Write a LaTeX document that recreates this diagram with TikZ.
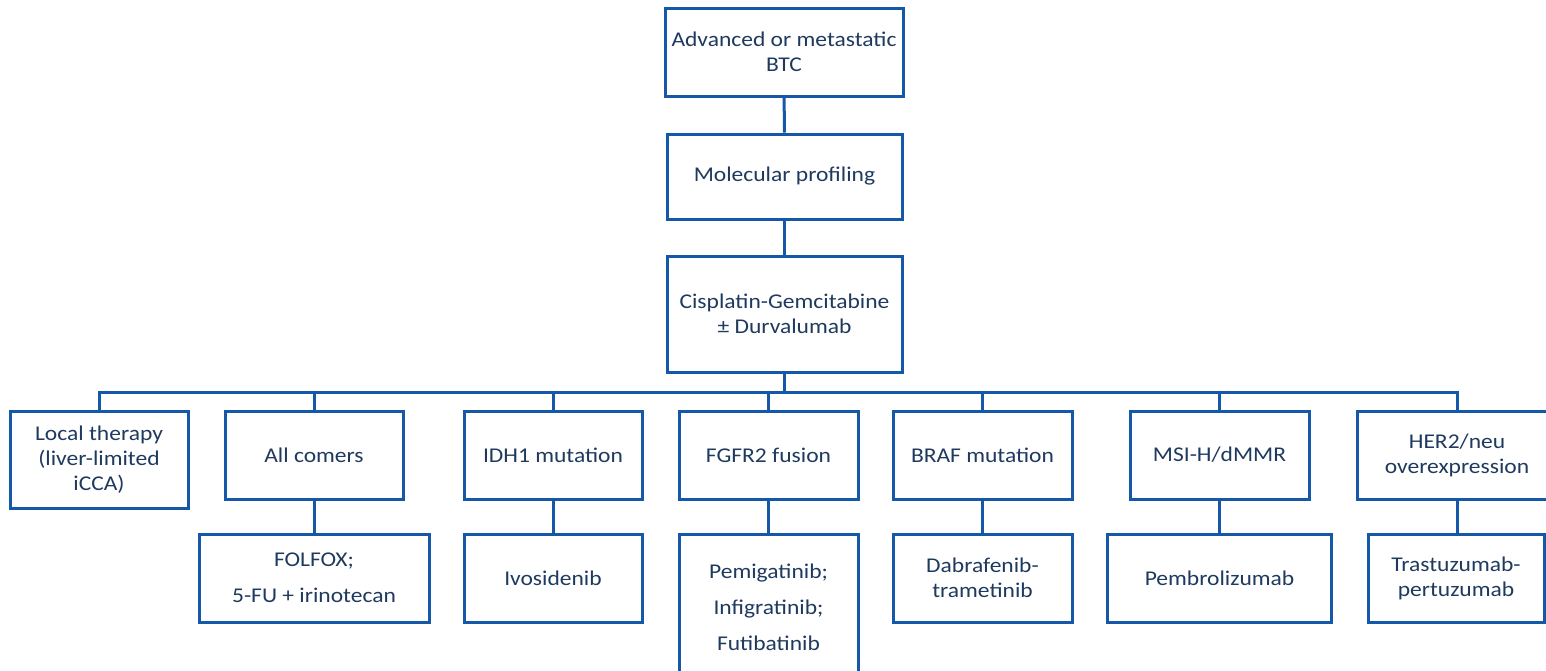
\documentclass[tikz,border=0pt]{standalone}
\usepackage{fontspec}
\setmainfont[FakeStretch=1.12]{Carlito}
\definecolor{boxblue}{HTML}{1558A8}
\definecolor{txtnavy}{HTML}{1F3A5F}
\tikzset{
  box/.style={draw=boxblue, line width=3pt, fill=white, text=txtnavy, align=center,
    inner sep=2pt, font=\fontsize{21}{25}\selectfont},
  link/.style={draw=boxblue, line width=3pt}
}
\begin{document}
\begin{tikzpicture}[x=1pt,y=-1pt]
\useasboundingbox (0,0) rectangle (1546,670);
% top chain
\node[box, minimum width=238pt, minimum height=88pt] (top) at (784,52) {Advanced or metastatic\\BTC};
\node[box, minimum width=235pt, minimum height=85pt] (mol) at (784.5,176.5) {Molecular profiling};
\node[box, minimum width=235pt, minimum height=116pt] (cis) at (784.5,314) {Cisplatin-Gemcitabine\\± Durvalumab};
\coordinate (bus) at (784.5,392);
% row 1
\node[box, minimum width=178pt, minimum height=97pt] (local) at (99,459.5) {Local therapy\\(liver-limited\\iCCA)};
\node[box, minimum width=178pt, minimum height=88pt] (all) at (314,455) {All comers};
\node[box, minimum width=178pt, minimum height=88pt] (idh) at (553,455) {IDH1 mutation};
\node[box, minimum width=179pt, minimum height=88pt] (fgfr) at (768.5,455) {FGFR2 fusion};
\node[box, minimum width=179pt, minimum height=88pt] (braf) at (982.5,455) {BRAF mutation};
\node[box, minimum width=179pt, minimum height=88pt] (msi) at (1219.5,455) {MSI-H/dMMR};
\node[box, minimum width=200pt, minimum height=88pt] (her) at (1457,455) {HER2/neu\\overexpression};
% row 2
\node[box, minimum width=230pt, minimum height=88pt] (folfox) at (314,578) {FOLFOX;\\[11pt]5-FU + irinotecan};
\node[box, minimum width=178pt, minimum height=88pt] (ivo) at (553,578) {Ivosidenib};
\node[box, minimum width=179pt, minimum height=146pt] (pemi) at (768.5,607) {Pemigatinib;\\[11pt]Infigratinib;\\[11pt]Futibatinib};
\node[box, minimum width=179pt, minimum height=88pt] (dab) at (982.5,578) {Dabrafenib-\\trametinib};
\node[box, minimum width=224pt, minimum height=88pt] (pem) at (1219.5,578) {Pembrolizumab};
\node[box, minimum width=176pt, minimum height=88pt] (tras) at (1456,578) {Trastuzumab-\\pertuzumab};
% connectors
\draw[link] (top) -- (mol);
\draw[link] (mol) -- (cis);
\draw[link] (cis.south) -- (bus);
\draw[link] (local.north) |- (bus) -| (her.north);
\foreach \n in {all,idh,fgfr,braf,msi} {\draw[link] (\n.north) -- (\n.north |- bus);}
\draw[link] (all.south) -- (folfox.north);
\draw[link] (idh.south) -- (ivo.north);
\draw[link] (fgfr.south) -- (pemi.north);
\draw[link] (braf.south) -- (dab.north);
\draw[link] (msi.south) -- (pem.north);
\draw[link] (her.south) -- (her.south |- tras.north);
\end{tikzpicture}
\end{document}
